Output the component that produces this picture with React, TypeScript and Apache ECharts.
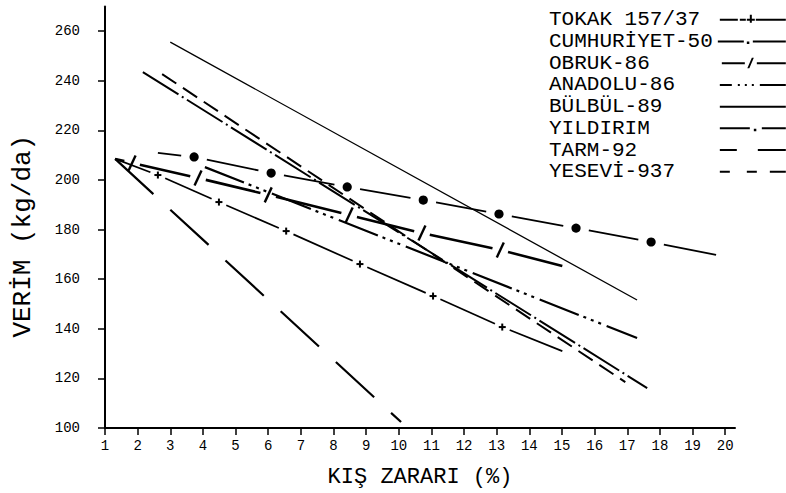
import React, { useEffect, useRef } from 'react';
import * as echarts from 'echarts';

// ---- axis ticks ----
const xTicks = [1, 2, 3, 4, 5, 6, 7, 8, 9, 10, 11, 12, 13, 14, 15, 16, 17, 18, 19, 20];
const yTicks = [100, 120, 140, 160, 180, 200, 220, 240, 260];

// ---- series names (legend order) ----
const seriesNames = ['TOKAK 157/37', 'CUMHURİYET-50', 'OBRUK-86', 'ANADOLU-86', 'BÜLBÜL-89', 'YILDIRIM', 'TARM-92', 'YESEVİ-937'];

// ---- series values (x = kış zararı %, y = verim kg/da) ----
// TOKAK 157/37: start, '+' marks, end
const tokakX = [1.31, 2.62, 4.49, 6.55, 8.81, 11.05, 13.17, 15.01];
const tokakY = [208.5, 202.0, 191.1, 179.4, 166.1, 153.2, 140.7, 131.0];
// CUMHURİYET-50: start, filled circles, end
const cumhuriyetX = [2.62, 3.73, 6.09, 8.42, 10.75, 13.07, 15.43, 17.73, 19.72];
const cumhuriyetY = [210.9, 209.3, 202.8, 197.2, 191.9, 186.3, 180.6, 175.0, 169.8];
// OBRUK-86: start, slash marks, end
const obrukX = [1.31, 1.83, 3.85, 6.0, 8.48, 10.71, 13.11, 15.01];
const obrukY = [208.5, 206.9, 200.8, 194.0, 185.9, 178.6, 171.8, 165.3];
// ANADOLU-86
const anadoluX = [4.06, 17.3];
const anadoluY = [205.2, 136.3];
// BÜLBÜL-89
const bulbulX = [3.0, 17.3];
const bulbulY = [255.6, 151.6];
// YILDIRIM
const yildirimX = [2.16, 17.61];
const yildirimY = [243.5, 116.1];
// TARM-92
const tarmX = [1.31, 10.07];
const tarmY = [208.5, 102.4];
// YESEVİ-937
const yeseviX = [2.75, 16.94];
const yeseviY = [242.7, 118.5];

const MONO = '"Liberation Mono", "DejaVu Sans Mono", monospace';

const zip = (xs: number[], ys: number[]) => xs.map((x, i) => [x, ys[i]]);

type MarkKind = 'plus' | 'circle' | 'slash';

function markedLine(name: string, xs: number[], ys: number[], kind: MarkKind, gap: number, width: number) {
  const pts = zip(xs, ys);
  const last = pts.length - 1;
  const isMark = (k: number) => k > 0 && k < last;
  return {
    type: 'custom',
    name,
    coordinateSystem: 'cartesian2d',
    data: pts,
    encode: { x: 0, y: 1 },
    itemStyle: { color: '#000' },
    silent: true,
    renderItem: (params: any, api: any) => {
      const i = params.dataIndex;
      const p = api.coord([api.value(0), api.value(1)]);
      const children: any[] = [];
      if (i > 0) {
        const q = api.coord(pts[i - 1]);
        const dx = p[0] - q[0];
        const dy = p[1] - q[1];
        const L = Math.hypot(dx, dy) || 1;
        const ux = dx / L;
        const uy = dy / L;
        const a = isMark(i - 1) ? gap : 0;
        const b = isMark(i) ? gap : 0;
        children.push({
          type: 'line',
          shape: { x1: q[0] + ux * a, y1: q[1] + uy * a, x2: p[0] - ux * b, y2: p[1] - uy * b },
          style: { stroke: '#000', lineWidth: width, lineCap: 'butt' },
        });
      }
      if (isMark(i)) {
        if (kind === 'circle') {
          children.push({ type: 'circle', shape: { cx: p[0], cy: p[1], r: 4.6 }, style: { fill: '#000' } });
        } else if (kind === 'plus') {
          children.push({ type: 'line', shape: { x1: p[0] - 3.5, y1: p[1], x2: p[0] + 3.5, y2: p[1] }, style: { stroke: '#000', lineWidth: 2 } });
          children.push({ type: 'line', shape: { x1: p[0], y1: p[1] - 3.5, x2: p[0], y2: p[1] + 3.5 }, style: { stroke: '#000', lineWidth: 2 } });
        } else {
          children.push({ type: 'line', shape: { x1: p[0] - 3.5, y1: p[1] + 7.5, x2: p[0] + 3.5, y2: p[1] - 7.5 }, style: { stroke: '#000', lineWidth: 2.4 } });
        }
      }
      return { type: 'group', children };
    },
  };
}

function dashedLine(name: string, xs: number[], ys: number[], dash: number[] | 'solid', width: number) {
  return {
    type: 'line',
    name,
    data: zip(xs, ys),
    symbol: 'none',
    silent: true,
    lineStyle: { color: '#000', width, type: dash, cap: 'butt' },
    itemStyle: { color: '#000' },
  };
}

// legend sample icons (68 x 14 box)
const r = (x0: number, x1: number, y = 6, h = 2) => `M${x0} ${y}H${x1}V${y + h}H${x0}Z `;
const frame = 'M0 0H0.01V0.01H0Z M67.99 13.99H68V14H67.99Z ';
const legendIcons = [
  frame + r(2, 20) + r(22, 28) + r(29, 37) + 'M32 2H34V10H32Z ' + r(38, 68),
  frame + r(0, 26) + r(29, 31.5, 7, 2.5) + r(35, 68),
  frame + r(4, 27) + 'M29.5 12L34 1.5H36L31.5 12Z ' + r(39, 68),
  frame + r(2, 14) + r(20, 22) + r(27, 29) + r(34, 36) + r(42, 68),
  frame + r(2, 68),
  frame + r(2, 32) + r(36, 38.5, 7.5, 2.5) + r(44, 68),
  frame + r(2, 19) + r(40, 68),
  frame + r(2, 12) + r(29, 39) + r(52, 68),
];

export default function App() {
  const ref = useRef<HTMLDivElement>(null);
  useEffect(() => {
    if (!ref.current) return;
    const chart = echarts.init(ref.current, undefined, { renderer: 'svg' });
    chart.setOption({
      animation: false,
      backgroundColor: '#fff',
      color: ['#000'],
      grid: { left: 105, right: 51, top: 6.4, bottom: 65, containLabel: false, outerBoundsMode: 'none' },
      legend: {
        orient: 'vertical',
        left: 549,
        top: 9,
        padding: 0,
        itemGap: 0,
        align: 'right',
        itemWidth: 68,
        itemHeight: 14,
        symbolKeepAspect: false,
        selectedMode: false,
        textStyle: { fontFamily: MONO, fontSize: 21, color: '#000', lineHeight: 21.7 },
        itemStyle: { color: '#000', borderWidth: 0 },
        formatter: (n: string) => n.padEnd(13, ' '),
        data: seriesNames.map((n, i) => ({ name: n, icon: 'path://' + legendIcons[i] })),
      },
      xAxis: {
        type: 'value',
        min: 1,
        max: 20.3,
        name: 'KIŞ ZARARI (%)',
        nameLocation: 'middle',
        nameGap: 38,
        nameTextStyle: { fontFamily: MONO, fontSize: 22, color: '#000' },
        axisLine: { show: true, onZero: false, lineStyle: { color: '#000', width: 2 } },
        axisTick: { show: true, length: 7, customValues: xTicks, lineStyle: { color: '#000', width: 1.5 } },
        axisLabel: { customValues: xTicks, fontFamily: MONO, fontSize: 14, color: '#000', margin: 11 },
        splitLine: { show: false },
      },
      yAxis: {
        type: 'value',
        min: 100,
        max: 270,
        name: 'VERİM (kg/da)',
        nameLocation: 'middle',
        nameGap: 69,
        nameRotate: 90,
        nameTextStyle: { fontFamily: MONO, fontSize: 26, color: '#000', padding: [0, 38, 0, 0] },
        axisLine: { show: true, onZero: false, lineStyle: { color: '#000', width: 2 } },
        axisTick: { show: true, length: 7, customValues: yTicks, lineStyle: { color: '#000', width: 1.5 } },
        axisLabel: { customValues: yTicks, fontFamily: MONO, fontSize: 14, color: '#000', margin: 25 },
        splitLine: { show: false },
      },
      series: [
        markedLine(seriesNames[0], tokakX, tokakY, 'plus', 8, 1.7),
        markedLine(seriesNames[1], cumhuriyetX, cumhuriyetY, 'circle', 13, 1.8),
        markedLine(seriesNames[2], obrukX, obrukY, 'slash', 8, 2.6),
        dashedLine(seriesNames[3], anadoluX, anadoluY, [42, 5, 3, 5, 3, 5, 3, 6], 2.2),
        dashedLine(seriesNames[4], bulbulX, bulbulY, 'solid', 1.3),
        dashedLine(seriesNames[5], yildirimX, yildirimY, [42, 4, 2, 4], 2),
        dashedLine(seriesNames[6], tarmX, tarmY, [52, 23], 2.2),
        dashedLine(seriesNames[7], yeseviX, yeseviY, [17, 8], 2),
      ],
    });
    return () => chart.dispose();
  }, []);
  return <div ref={ref} style={{ position: 'fixed', left: 0, top: 0, width: 786, height: 493 }} />;
}
